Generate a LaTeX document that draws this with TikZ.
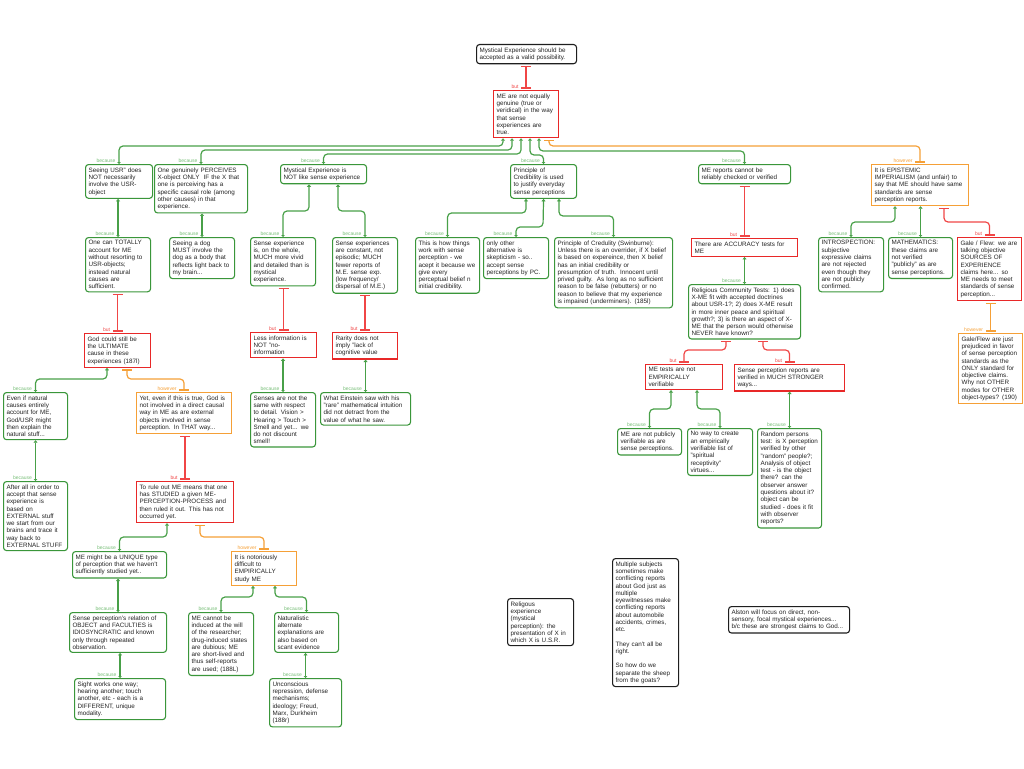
\documentclass[tikz,border=0pt]{standalone}
\usepackage{fontspec}
\setmainfont{Liberation Sans}
\usetikzlibrary{arrows.meta}
\definecolor{gbd}{RGB}{58,150,58}
\definecolor{gln}{RGB}{72,160,72}
\definecolor{glb}{RGB}{120,190,120}
\definecolor{rbd}{RGB}{232,40,40}
\definecolor{rln}{RGB}{240,70,70}
\definecolor{obd}{RGB}{245,160,55}
\definecolor{txt}{RGB}{35,35,35}
\definecolor{kbd}{RGB}{30,30,30}
\tikzset{
 box/.style={anchor=north west, align=left, inner xsep=3pt, inner ysep=3pt,
   font=\fontsize{6.3}{7.3}\selectfont, text=txt, fill=white, line width=1.1pt},
 gbox/.style={box, draw=gbd, rounded corners=3pt},
 rbox/.style={box, draw=rbd},
 obox/.style={box, draw=obd},
 kbox/.style={box, draw=kbd, rounded corners=3pt},
 glink/.style={draw=gln, line width=1.2pt, rounded corners=4pt,
   {Triangle[width=3.5pt,length=2pt]}-{Triangle[width=4pt,length=2.5pt]}},
 rlink/.style={draw=rln, line width=1.2pt, rounded corners=4pt, shorten <=1.5pt, shorten >=1.5pt,
   {Bar[width=10pt,line width=1.5pt]}-{Bar[width=10pt]}},
 olink/.style={draw=obd, line width=1.2pt, rounded corners=4pt, shorten <=1.5pt, shorten >=1.5pt,
   {Bar[width=10pt,line width=1.5pt]}-{Bar[width=10pt]}},
 lab/.style={anchor=south east, inner sep=0pt, yshift=1.2pt, font=\fontsize{5}{5}\selectfont},
 glab/.style={lab, xshift=-3pt, text=glb},
 rlab/.style={lab, xshift=-7pt, text=rln},
 olab/.style={lab, xshift=-7pt, text=obd},
}
\begin{document}
\begin{tikzpicture}[x=1pt,y=-1pt]
\useasboundingbox (0,0) rectangle (1024,768);

% ---- top ----
\node[kbox, text width=94pt] (n1) at (476,44) {Mystical Experience should be\\accepted as a valid possibility.};
\node[rbox, text width=59pt] (n2) at (493,90) {ME are not equally\\genuine (true or\\veridical) in the way\\that sense\\experiences are\\true.};

% ---- level 2 ----
\node[gbox, text width=61pt] (nA) at (85,164) {Seeing USR" does\\NOT necessarily\\involve the USR-\\object};
\node[gbox, text width=87pt] (nB) at (154,164) {One genuinely PERCEIVES\\X-object ONLY\ \ IF the X that\\one is perceiving has a\\specific causal role (among\\other causes) in that\\experience.};
\node[gbox, text width=80pt] (nC) at (280,164) {Mystical Experience is\\NOT like sense experience};
\node[gbox, text width=60pt] (nD) at (510,164) {Principle of\\Credibility is used\\to justify everyday\\sense perceptions};
\node[gbox, text width=86pt] (nE) at (698,164) {ME reports cannot be\\reliably checked or verified};
\node[obox, text width=91pt] (nF) at (871,164) {It is EPISTEMIC\\IMPERIALISM (and unfair) to\\say that ME should have same\\standards are sense\\perception reports.};

% ---- level 3 ----
\node[gbox, text width=59pt] (nA1) at (85,237) {One can TOTALLY\\account for ME\\without resorting to\\USR-objects;\\instead natural\\causes are\\sufficient.};
\node[gbox, text width=59pt] (nB1) at (169,237) {Seeing a dog\\MUST involve the\\dog as a body that\\reflects light back to\\my brain...};
\node[gbox, text width=59pt] (nC1) at (250,237) {Sense experience\\is, on the whole,\\MUCH more vivid\\and detailed than is\\mystical\\experience.};
\node[gbox, text width=59pt] (nC2) at (332,237) {Sense experiences\\are constant, not\\episodic; MUCH\\fewer reports of\\M.E. sense exp.\\(low frequency/\\dispersal of M.E.)};
\node[gbox, text width=58pt] (nD1) at (415,237) {This is how things\\work with sense\\perception - we\\acept it because we\\give every\\perceptual belief n\\initial credibility.};
\node[gbox, text width=59pt] (nD2) at (483,237) {only other\\alternative is\\skepticism - so..\\accept sense\\perceptions by PC.};
\node[gbox, text width=112pt] (nD3) at (554,237) {Principle of Credulity (Swinburne):\\Unless there is an overrider, if X belief\\is based on expereince, then X belief\\has an initial credibility or\\presumption of truth.\ \ Innocent until\\prived guilty.\ \ As long as no sufficient\\reason to be false (rebutters) or no\\reason to believe that my experience\\is impaired (underminers). (185l)};
\node[rbox, text width=100pt] (nE1) at (691,238) {There are ACCURACY tests for\\ME};
\node[gbox, text width=106pt] (nE2) at (688,284) {Religious Community Tests: 1) does\\X-ME fit with accepted doctrines\\about USR-1?; 2) does X-ME result\\in more inner peace and spiritual\\growth?; 3) is there an aspect of X-\\ME that the person would otherwise\\NEVER have known?};
\node[rbox, text width=71pt] (nE3) at (645,364) {ME tests are not\\EMPIRICALLY\\verifiable};
\node[rbox, text width=104pt] (nE4) at (734,364) {Sense perception reports are\\verified in MUCH STRONGER\\ways...};
\node[gbox, text width=58pt] (nE5) at (617,428) {ME are not publicly\\verifiable as are\\sense perceptions.};
\node[gbox, text width=59pt] (nE6) at (687,428) {No way to create\\an empirically\\verifiable list of\\"spiritual\\receptivity"\\virtues...};
\node[gbox, text width=58pt] (nE7) at (757,428) {Random persons\\test: is X perception\\verified by other\\"random" people?;\\Analysis of object\\test - is the object\\there? can the\\observer answer\\questions about it?\\object can be\\studied - does it fit\\with observer\\reports?};
\node[gbox, text width=59pt] (nF1) at (818,237) {INTROSPECTION:\\subjective\\expressive claims\\are not rejected\\even though they\\are not publicly\\confirmed.};
\node[gbox, text width=58pt] (nF2) at (888,237) {MATHEMATICS:\\these claims are\\not verified\\"publicly" as are\\sense perceptions.};
\node[rbox, text width=58pt] (nF3) at (957,237) {Gale / Flew: we are\\talking objective\\SOURCES OF\\EXPERIENCE\\claims here... so\\ME needs to meet\\standards of sense\\perception...};
\node[obox, text width=58pt] (nF4) at (958,333) {Gale/Flew are just\\prejudiced in favor\\of sense perception\\standards as the\\ONLY standard for\\objective claims.\\Why not OTHER\\modes for OTHER\\object-types? (190)};

% ---- left branch ----
\node[rbox, text width=60pt] (nG) at (84,333) {God could still be\\the ULTIMATE\\cause in these\\experiences (187l)};
\node[gbox, text width=58pt] (nG1) at (3,392) {Even if natural\\causes entirely\\account for ME,\\God/USR might\\then explain the\\natural stuff...};
\node[obox, text width=89pt] (nG2) at (136,392) {Yet, even if this is true, God is\\not involved in a direct causal\\way in ME as are external\\objects involved in sense\\perception. In THAT way...};
\node[gbox, text width=58pt] (nG3) at (3,481) {After all in order to\\accept that sense\\experience is\\based on\\EXTERNAL stuff\\we start from our\\brains and trace it\\way back to\\EXTERNAL STUFF};
\node[rbox, text width=91pt] (nG4) at (136,481) {To rule out ME means that one\\has STUDIED a given ME-\\PERCEPTION-PROCESS and\\then ruled it out. This has not\\occurred yet.};
\node[gbox, text width=88pt] (nG5) at (72,551) {ME might be a UNIQUE type\\of perception that we haven't\\sufficiently studied yet..};
\node[obox, text width=59pt] (nG6) at (231,551) {It is notoriously\\difficult to\\EMPIRICALLY\\study ME};
\node[gbox, text width=91pt] (nG7) at (69,612) {Sense perception's relation of\\OBJECT and FACULTIES is\\IDIOSYNCRATIC and known\\only through repeated\\observation.};
\node[gbox, text width=85pt] (nG8) at (74,678) {Sight works one way;\\hearing another; touch\\another, etc - each is a\\DIFFERENT, unique\\modality.};
\node[gbox, text width=59pt] (nG9) at (188,612) {ME cannot be\\induced at the will\\of the researcher;\\drug-induced states\\are dubious; ME\\are short-lived and\\thus self-reports\\are used; (188L)};
\node[gbox, text width=58pt] (nG10) at (274,612) {Naturalistic\\alternate\\explanations are\\also based on\\scant evidence};
\node[gbox, text width=66pt] (nG11) at (269,678) {Unconscious\\repression, defense\\mechanisms;\\ideology; Freud,\\Marx, Durkheim\\(188r)};

% ---- C branch ----
\node[rbox, text width=60pt] (nC3) at (250,332) {Less information is\\NOT "no-\\information};
\node[gbox, text width=59pt] (nC4) at (250,392) {Senses are not the\\same with respect\\to detail. Vision >\\Hearing > Touch >\\Smell and yet... we\\do not discount\\smell!};
\node[rbox, text width=59pt] (nC5) at (332,332) {Rarity does not\\imply "lack of\\cognitive value};
\node[gbox, text width=84pt] (nC6) at (320,392) {What Einstein saw with his\\"rare" mathematical intuition\\did not detract from the\\value of what he saw.};

% ---- standalone ----
\node[kbox, text width=60pt] (nS1) at (507,598) {Religous\\experience\\(mystical\\perception): the\\presentation of X in\\which X is U.S.R.};
\node[kbox, text width=60pt] (nS2) at (612,558) {Multiple subjects\\sometimes make\\conflicting reports\\about God just as\\multiple\\eyewitnesses make\\conflicting reports\\about automobile\\accidents, crimes,\\etc.\\[7pt]They can't all be\\right.\\[7pt]So how do we\\separate the sheep\\from the goats?};
\node[kbox, text width=115pt] (nS3) at (728,606) {Alston will focus on direct, non-\\sensory, focal mystical experiences...\\b/c these are strongest claims to God...};

% ---- connectors ----
\draw[rlink] (n2.north) node[rlab]{but} -- (n2.north |- n1.south);
\draw[glink] (nA.north) node[glab]{because} |- (503,146) -- (n2.south -| 503,0);
\draw[glink] (nB.north) node[glab]{because} |- (512,150) -- (n2.south -| 512,0);
\draw[glink] (nC.north) node[glab]{because} |- (521,154) -- (n2.south -| 521,0);
\draw[glink] (nD.north) node[glab]{because} |- (530,155) -- (n2.south -| 530,0);
\draw[glink] (nE.north) node[glab]{because} |- (539,151) -- (n2.south -| 539,0);
\draw[olink] (nF.north) node[olab]{however} |- (549,146) -- (n2.south -| 549,0);

\draw[glink] (nC1.north) node[glab]{because} |- (309,211) -- (nC.south -| 309,0);
\draw[glink] (nC2.north) node[glab]{because} |- (338,211) -- (nC.south -| 338,0);

\draw[glink] (nD1.north) node[glab]{because} |- (526,213) -- (nD.south -| 526,0);
\draw[glink] (nD2.north) node[glab]{because} |- (543,227) -- (nD.south);
\draw[glink] (nD3.north) node[glab]{because} |- (559,216) -- (nD.south -| 559,0);

\draw[rlink] (nE1.north) node[rlab]{but} -- (nE1.north |- nE.south);
\draw[glink] (nE2.north) node[glab]{because} -- (nE2.north |- nE1.south);
\draw[rlink] (nE3.north) node[rlab]{but} |- (726,350) -- (nE2.south -| 726,0);
\draw[rlink] (nE4.north) node[rlab]{but} |- (763,350) -- (nE2.south -| 763,0);
\draw[glink] (nE5.north) node[glab]{because} |- (671,409) -- (nE3.south -| 671,0);
\draw[glink] (nE6.north) node[glab]{because} |- (697,409) -- (nE3.south -| 697,0);
\draw[glink] (nE7.north) node[glab]{because} -- (nE7.north |- nE4.south);

\draw[glink] (nF1.north) node[glab]{because} |- (895,222) -- (nF.south -| 895,0);
\draw[glink] (nF2.north) node[glab]{because} -- (nF2.north |- nF.south);
\draw[rlink] (nF3.north) node[rlab]{but} |- (944,222) -- (nF.south -| 944,0);
\draw[olink] (nF4.north) node[olab]{however} -- (nF4.north |- nF3.south);

\draw[glink] (nA1.north) node[glab]{because} -- (nA1.north |- nA.south);
\draw[glink] (nB1.north) node[glab]{because} -- (nB1.north |- nB.south);
\draw[rlink] (nG.north) node[rlab]{but} -- (nG.north |- nA1.south);
\draw[glink] (nG1.north) node[glab]{because} |- (107,379) -- (nG.south -| 107,0);
\draw[olink] (nG2.north) node[olab]{however} |- (127,379) -- (nG.south -| 127,0);
\draw[glink] (nG3.north) node[glab]{because} -- (nG3.north |- nG1.south);
\draw[rlink] (nG4.north) node[rlab]{but} -- (nG4.north |- nG2.south);
\draw[glink] (nG5.north) node[glab]{because} |- (167,537) -- (nG4.south -| 167,0);
\draw[olink] (nG6.north) node[olab]{however} |- (200,537) -- (nG4.south -| 200,0);
\draw[glink] (nG7.north) node[glab]{because} -- (nG7.north |- nG5.south);
\draw[glink] (nG8.north) node[glab]{because} -- (nG8.north |- nG7.south);
\draw[glink] (nG9.north) node[glab]{because} |- (253,597) -- (nG6.south -| 253,0);
\draw[glink] (nG10.north) node[glab]{because} |- (275,597) -- (nG6.south -| 275,0);
\draw[glink] (nG11.north) node[glab]{because} -- (nG11.north |- nG10.south);

\draw[rlink] (nC3.north) node[rlab]{but} -- (nC3.north |- nC1.south);
\draw[glink] (nC4.north) node[glab]{because} -- (nC4.north |- nC3.south);
\draw[rlink] (nC5.north) node[rlab]{but} -- (nC5.north |- nC2.south);
\draw[glink] (nC6.north) node[glab]{because} -- (nC6.north |- nC5.south);
\end{tikzpicture}
\end{document}
